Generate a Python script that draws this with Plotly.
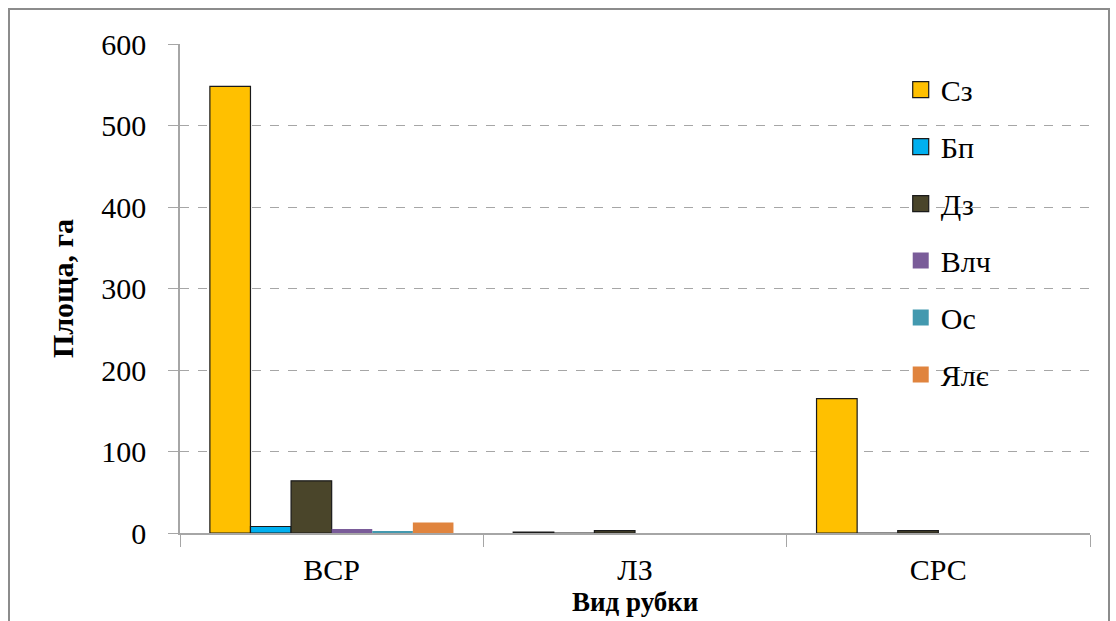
import plotly.graph_objects as go

# Вид рубки
categories = ["ВСР", "ЛЗ", "СРС"]

# Площа рубок за породами, га
species = ["Сз", "Бп", "Дз", "Влч", "Ос", "Ялє"]
sz = [548, 1, 165]
bp = [8, 0, 0]
dz = [64, 3, 3]
vlch = [5, 0, 0]
os_ = [2, 0, 0]
yale = [13, 0, 0]

y_ticks = [0, 100, 200, 300, 400, 500, 600]

series = [sz, bp, dz, vlch, os_, yale]
colors = ["#FFC000", "#00B0F0", "#4A452A", "#7A5C99", "#4399AF", "#E0843E"]
outlined = [True, True, True, False, False, False]

FONT = "Liberation Serif, Times New Roman, serif"
FS = 30

fig = go.Figure()
for name, vals, col, ol in zip(species, series, colors, outlined):
    edge = dict(color="#1a1a1a" if ol else col, width=1.2 if ol else 0)
    fig.add_trace(go.Bar(
        x=categories, y=vals, name=name, legendgroup=name, showlegend=False,
        marker=dict(color=col, line=edge),
    ))
    # larger square swatch for the legend entry
    fig.add_trace(go.Scatter(
        x=[None], y=[None], mode="markers", name=name, legendgroup=name,
        marker=dict(symbol="square", size=16, color=col,
                    line=dict(color="#1a1a1a" if ol else col, width=1.2 if ol else 0)),
    ))

fig.update_layout(
    width=1116, height=621,
    margin=dict(l=180, r=26, t=44, b=88),
    paper_bgcolor="white", plot_bgcolor="white",
    barmode="group", bargap=0.197, bargroupgap=0,
    font=dict(family=FONT, size=FS, color="black"),
    showlegend=True,
    legend=dict(x=0.792, y=0.96, xanchor="left", yanchor="top",
                traceorder="grouped", tracegroupgap=15,
                font=dict(family=FONT, size=FS),
                bgcolor="rgba(0,0,0,0)", itemwidth=30),
    xaxis=dict(
        automargin=False,
        showline=True, linecolor="#A6A6A6", linewidth=1.5,
        ticks="outside", tickson="boundaries", ticklen=12, tickcolor="#A6A6A6",
        ticklabelstandoff=9,
        tickfont=dict(family=FONT, size=FS),
        showgrid=False,
    ),
    yaxis=dict(
        automargin=False,
        range=[0, 600], tickvals=y_ticks,
        showline=True, linecolor="#A6A6A6", linewidth=1.5,
        ticks="outside", ticklen=10, tickcolor="#A6A6A6",
        ticklabelstandoff=16,
        showgrid=True, gridcolor="#A6A6A6", griddash="dash", gridwidth=1,
        zeroline=False,
        tickfont=dict(family=FONT, size=FS),
        title=dict(text="<b>Площа, га</b>", font=dict(family=FONT, size=FS), standoff=19),
    ),
    annotations=[dict(text="<b>Вид рубки</b>", xref="paper", yref="paper",
                      x=0.5, y=(533 - 619) / 489, xanchor="center", yanchor="bottom",
                      showarrow=False, font=dict(family=FONT, size=27))],
    shapes=[dict(type="rect", xref="paper", yref="paper",
                 x0=(9 - 180) / 910, x1=(1109 - 180) / 910,
                 y0=(533 - 660) / 489, y1=(533 - 9) / 489,
                 line=dict(color="#8C8C8C", width=2), fillcolor="rgba(0,0,0,0)",
                 layer="below")],
)

fig.write_html("out.html")
